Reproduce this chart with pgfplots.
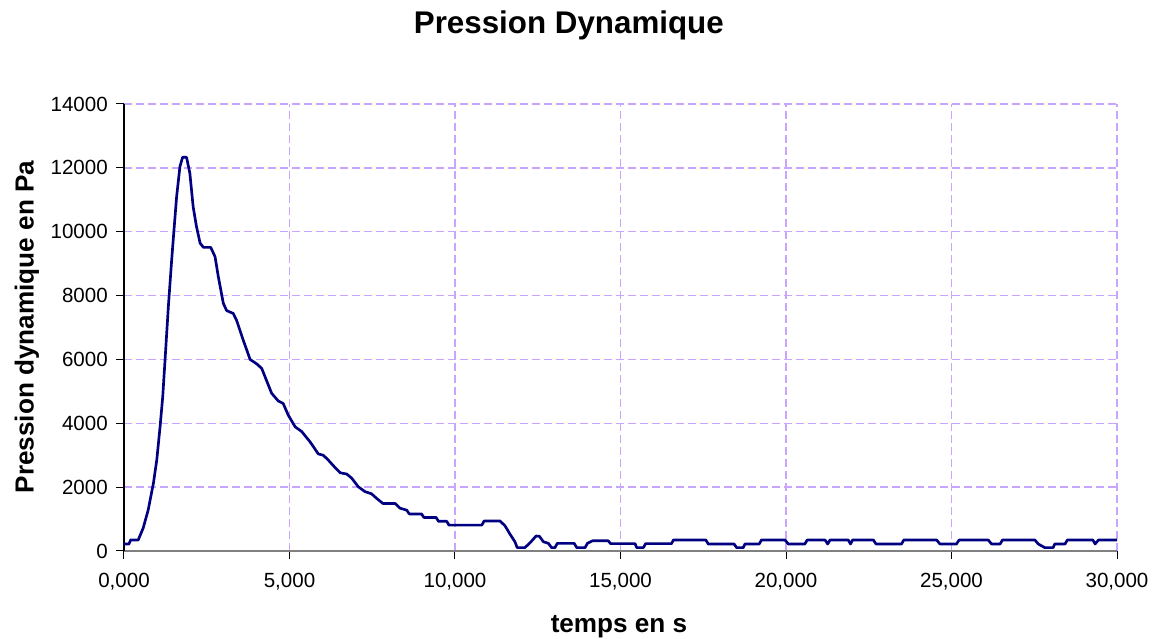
\documentclass[border=0pt]{standalone}
\usepackage{fontspec}
\setmainfont{Liberation Sans}
\usepackage{pgfplots}
\pgfplotsset{compat=1.18}
\definecolor{gridviolet}{RGB}{200,165,255}
\definecolor{curve}{RGB}{0,0,128}
\definecolor{axisgray}{RGB}{128,128,128}
\begin{document}
\begin{tikzpicture}
\useasboundingbox (-93pt,-66pt) rectangle (775.5pt,413.25pt);
\begin{axis}[
  at={(0,0)}, anchor=south west,
  scale only axis, width=744.75pt, height=335.25pt,
  xmin=0, xmax=30, ymin=0, ymax=14000,
  xtick={0,5,...,30}, ytick={0,2000,...,14000},
  axis x line*=bottom, axis y line*=left,
  x axis line style={-, draw=axisgray, line width=1.5pt},
  y axis line style={-, draw=black, line width=0.8pt},
  tick align=outside, major tick length=6pt,
  every tick/.style={black, line width=0.75pt},
  grid=major,
  major grid style={draw=gridviolet, line width=1.1pt, dash pattern=on 6pt off 3pt},
  /pgf/number format/assume math mode=true,
  xticklabel style={/pgf/number format/.cd, fixed, fixed zerofill, precision=3, use comma, /tikz/.cd,
    font=\fontsize{15.4}{18}\selectfont, anchor=center, yshift=-17.25pt},
  yticklabel style={/pgf/number format/.cd, fixed, 1000 sep={}, /tikz/.cd,
    font=\fontsize{15.4}{18}\selectfont, anchor=east, inner sep=0pt, xshift=-6pt},
  scaled x ticks=false, scaled y ticks=false,
  title={Pression Dynamique},
  title style={at={(0.448,1.158)}, anchor=center, font=\fontsize{23.5}{28}\selectfont\bfseries},
  xlabel={temps en s},
  xlabel style={at={(0.4985,-0.170)}, anchor=center, font=\fontsize{19.6}{23}\selectfont\bfseries},
  ylabel={Pression dynamique en Pa},
  ylabel style={at={(-0.0977,0.501)}, anchor=center, font=\fontsize{19.6}{23}\selectfont\bfseries},
]
\addplot[curve, line width=2pt, line join=round, mark=none] coordinates {
(0,220) (0.15,220) (0.2,345) (0.43,345) (0.48,470) (0.58,720) (0.73,1280)
(0.89,2130) (0.99,2850) (1.09,3890) (1.17,4830) (1.24,5980) (1.34,7650)
(1.44,9110) (1.51,10050) (1.59,11100) (1.69,12040) (1.77,12330) (1.89,12330)
(1.99,11830) (2.09,10780) (2.19,10160) (2.30,9640) (2.40,9510) (2.62,9510)
(2.75,9220) (2.85,8590) (3.00,7760) (3.10,7530) (3.30,7440) (3.40,7230)
(3.60,6610) (3.81,6000) (4.01,5860) (4.16,5720) (4.46,4940) (4.66,4700)
(4.81,4620) (4.96,4260) (5.17,3890) (5.37,3740) (5.62,3420) (5.72,3270)
(5.87,3040) (6.02,3000) (6.17,2850) (6.37,2620) (6.53,2450) (6.73,2410)
(6.88,2280) (7.08,2010) (7.28,1860) (7.48,1790) (7.63,1650) (7.82,1490)
(8.19,1490) (8.34,1340) (8.54,1280) (8.62,1160) (8.99,1160) (9.06,1050)
(9.43,1050) (9.50,930) (9.75,930) (9.82,810) (10.81,810) (10.88,940)
(11.36,940) (11.51,790) (11.66,530) (11.81,290) (11.88,105) (12.11,105)
(12.27,260) (12.45,470) (12.55,460) (12.67,290) (12.82,240) (12.92,105)
(13.02,105) (13.09,240) (13.60,240) (13.68,105) (13.93,105) (14.00,240)
(14.16,320) (14.63,320) (14.70,230) (15.44,230) (15.49,105) (15.69,105)
(15.76,230) (16.54,230) (16.60,345) (17.58,345) (17.65,220) (18.43,220)
(18.51,105) (18.71,105) (18.76,220) (19.19,220) (19.26,345) (19.97,345)
(20.07,220) (20.57,220) (20.64,345) (21.18,345) (21.26,220) (21.33,345)
(21.88,345) (21.95,220) (22.01,345) (22.64,345) (22.72,220) (23.49,220)
(23.56,345) (24.55,345) (24.65,220) (25.15,220) (25.23,345) (26.11,345)
(26.21,220) (26.47,220) (26.54,345) (27.52,345) (27.62,220) (27.82,105)
(28.07,105) (28.12,220) (28.43,220) (28.50,345) (29.27,345) (29.34,220)
(29.44,345) (30,345)
};
\end{axis}
\end{tikzpicture}
\end{document}
